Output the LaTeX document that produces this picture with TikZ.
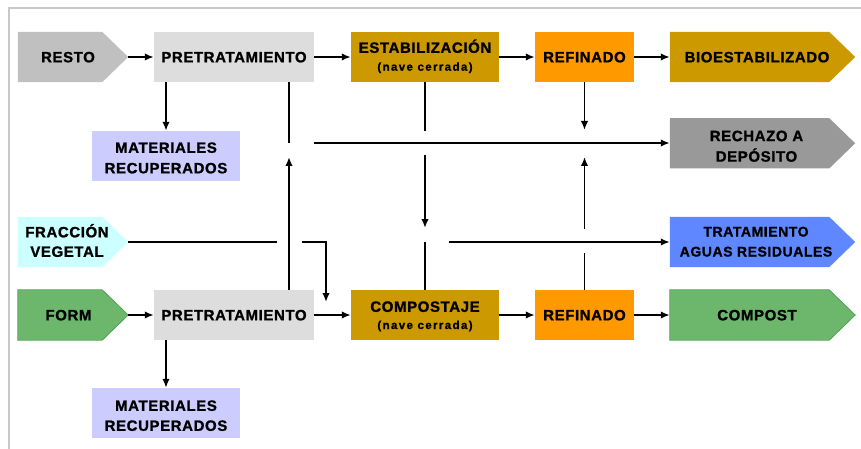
\documentclass[tikz,border=0pt]{standalone}
\usepackage{fontspec}
\setmainfont{Liberation Sans}[LetterSpace=4, BoldFeatures={FakeBold=1.2}]
\newfontfamily\navefont{Liberation Sans}[LetterSpace=12, BoldFeatures={FakeBold=1.2}]
\usetikzlibrary{arrows.meta,backgrounds}
\definecolor{cRest}{HTML}{C0C0C0}
\definecolor{cPre}{HTML}{DDDDDD}
\definecolor{cEst}{HTML}{CC9900}
\definecolor{cRef}{HTML}{FF9900}
\definecolor{cMat}{HTML}{CCCCFF}
\definecolor{cRech}{HTML}{999999}
\definecolor{cFrac}{HTML}{CCFFFF}
\definecolor{cTrat}{HTML}{5F87FF}
\definecolor{cGreen}{HTML}{6DB76D}
\definecolor{cGreenD}{HTML}{55A055}
\definecolor{cFrame}{HTML}{C8C8C8}
\begin{document}
\begin{tikzpicture}[x=1pt,y=-1pt,
  lbl/.style={font=\bfseries\fontsize{15}{18}\selectfont, text height=10.7pt, text depth=0pt, inner sep=0pt},
  lblsm/.style={font=\bfseries\fontsize{14}{17}\selectfont, text height=10pt, text depth=0pt, inner sep=0pt},
  box/.style={rectangle, inner sep=0pt, minimum height=50pt, lbl},
  sml/.style={font=\navefont\bfseries\fontsize{11.5}{13}\selectfont, text height=6pt, text depth=0pt, inner sep=0pt},
  arr/.style={line width=1.9pt, -{Latex[length=9pt,width=7.5pt]}},
  ln/.style={line width=1.9pt},
]
\useasboundingbox (0,0) rectangle (861,449);

% top row
\node[box, minimum width=110pt] (resto) at (73,57) {};
\node[lbl] (restoT) at ([xshift=-5pt]resto.center) {RESTO};
\node[box, fill=cPre, minimum width=160pt] (pre1) at (234,57) {PRETRATAMIENTO};
\node[box, fill=cEst, minimum width=148pt] (estab) at (425,57) {};
\node[lbl] (estabT) at ([yshift=9.5pt]estab.center) {ESTABILIZACIÓN};
\node[sml] (estabS) at ([yshift=-10.7pt]estab.center) {(nave cerrada)};
\node[box, fill=cRef, minimum width=99pt] (ref1) at (584.5,57) {REFINADO};
\node[box, minimum width=185pt] (bio) at (762.5,57) {};
\node[lbl] (bioT) at ([xshift=-5.5pt]bio.center) {BIOESTABILIZADO};

% materiales 1
\node[box, fill=cMat, minimum width=148pt] (mat1) at (166,156) {};
\node[lbl] (mat1a) at ([yshift=8.5pt]mat1.center) {MATERIALES};
\node[lbl] (mat1b) at ([yshift=-12pt]mat1.center) {RECUPERADOS};

% rechazo
\node[box, minimum width=185pt] (rech) at (762.5,143.3) {};
\node[lbl] (rechA) at ([xshift=-6pt,yshift=7.5pt]rech.center) {RECHAZO A};
\node[lbl] (rechB) at ([xshift=-6pt,yshift=-13pt]rech.center) {DEPÓSITO};

% fraccion vegetal
\node[box, minimum width=110pt] (frac) at (73,242) {};
\node[lbl] (fracA) at ([xshift=-6pt,yshift=10pt]frac.center) {FRACCIÓN};
\node[lbl] (fracB) at ([xshift=-6pt,yshift=-9.5pt]frac.center) {VEGETAL};

% tratamiento
\node[box, minimum width=185pt] (trat) at (762.5,242) {};
\node[lblsm] (tratA) at ([xshift=-6.5pt,yshift=10.5pt]trat.center) {TRATAMIENTO};
\node[lblsm] (tratB) at ([xshift=-6.5pt,yshift=-9.5pt]trat.center) {AGUAS RESIDUALES};

% bottom row
\node[box, minimum width=110pt] (form) at (73,315) {};
\node[lbl] (formT) at ([xshift=-4.5pt]form.center) {FORM};
\node[box, fill=cPre, minimum width=160pt] (pre2) at (234,315) {PRETRATAMIENTO};
\node[box, fill=cEst, minimum width=148pt] (comp) at (425,315) {};
\node[lbl] (compT) at ([yshift=8.5pt]comp.center) {COMPOSTAJE};
\node[sml] (compS) at ([yshift=-11pt]comp.center) {(nave cerrada)};
\node[box, fill=cRef, minimum width=99pt] (ref2) at (584.5,315) {REFINADO};
\node[box, minimum width=185pt] (compost) at (762.5,315) {};
\node[lbl] (compostT) at ([xshift=-5.5pt]compost.center) {COMPOST};

% materiales 2
\node[box, fill=cMat, minimum width=148pt] (mat2) at (166,413) {};
\node[lbl] (mat2a) at ([yshift=7.5pt]mat2.center) {MATERIALES};
\node[lbl] (mat2b) at ([yshift=-12.5pt]mat2.center) {RECUPERADOS};

% backgrounds: frame and arrow-shaped boxes
\begin{scope}[on background layer]
\draw[line width=2pt, cFrame] (861,8) -- (9,8) -- (9,449);
\fill[cRest] (resto.north west) -- ([xshift=-26pt]resto.north east) -- (resto.east) -- ([xshift=-26pt]resto.south east) -- (resto.south west) -- cycle;
\fill[cEst] (bio.north west) -- ([xshift=-26pt]bio.north east) -- (bio.east) -- ([xshift=-26pt]bio.south east) -- (bio.south west) -- cycle;
\fill[cRech] (rech.north west) -- ([xshift=-26pt]rech.north east) -- (rech.east) -- ([xshift=-26pt]rech.south east) -- (rech.south west) -- cycle;
\fill[cFrac] (frac.north west) -- ([xshift=-26pt]frac.north east) -- (frac.east) -- ([xshift=-26pt]frac.south east) -- (frac.south west) -- cycle;
\fill[cTrat] (trat.north west) -- ([xshift=-26pt]trat.north east) -- (trat.east) -- ([xshift=-26pt]trat.south east) -- (trat.south west) -- cycle;
\filldraw[fill=cGreen, draw=cGreenD, line width=0.8pt] (form.north west) -- ([xshift=-26pt]form.north east) -- (form.east) -- ([xshift=-26pt]form.south east) -- (form.south west) -- cycle;
\filldraw[fill=cGreen, draw=cGreenD, line width=0.8pt] (compost.north west) -- ([xshift=-26pt]compost.north east) -- (compost.east) -- ([xshift=-26pt]compost.south east) -- (compost.south west) -- cycle;
\end{scope}

% junction coordinates
\coordinate (jA) at (289,143);
\coordinate (jB) at (289,157);
\coordinate (hA) at (314,143);
\coordinate (eA) at (425,131);
\coordinate (eB) at (425,155);
\coordinate (eC) at (425,228);
\coordinate (rA) at (584.5,130);
\coordinate (rB) at (584.5,157);
\coordinate (rC) at (584.5,229);
\coordinate (rD) at (584.5,253);
\coordinate (cA) at (425,242);
\coordinate (tA) at (449,242);
\coordinate (fA) at (277,242);
\coordinate (fB) at (302,242);
\coordinate (fC) at (326,242);
\coordinate (fD) at (326,302);

% main flow
\draw[arr] (resto) -- (pre1);
\draw[arr] (pre1) -- (estab);
\draw[arr] (estab) -- (ref1);
\draw[arr] (ref1) -- (bio);
\draw[arr] (form) -- (pre2);
\draw[arr] (pre2) -- (comp);
\draw[arr] (comp) -- (ref2);
\draw[arr] (ref2) -- (compost);

% materiales recuperados
\draw[arr] (pre1.south -| mat1.north) -- (mat1.north);
\draw[arr] (pre2.south -| mat2.north) -- (mat2.north);

% rechazo
\draw[ln] (pre1.south -| jA) -- (jA);
\draw[arr] (pre2.north -| jB) -- (jB);
\draw[arr] (hA) -- (hA -| rech.west);
\draw[arr] (ref1.south) -- (rA);
\draw[ln] (ref2.north) -- (rD);
\draw[arr] (rC) -- (rB);

% lixiviados
\draw[ln] (estab.south) -- (eA);
\draw[arr] (eB) -- (eC);
\draw[ln] (comp.north) -- (cA);
\draw[arr] (tA) -- (tA -| trat.west);

% fraccion vegetal
\draw[ln] (frac.east) -- (fA);
\draw[arr] (fB) -- (fC) -- (fD);
\end{tikzpicture}
\end{document}
